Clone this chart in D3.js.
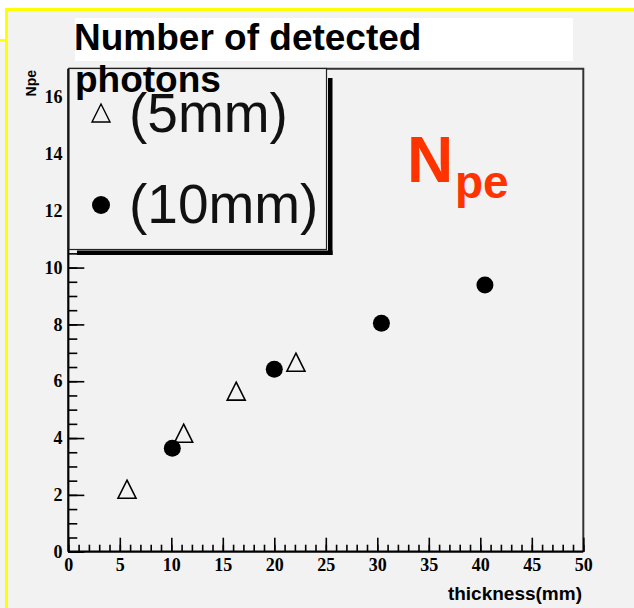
<!DOCTYPE html>
<html>
<head>
<meta charset="utf-8">
<script src="https://cdn.jsdelivr.net/npm/d3@7"></script>
<style>
  body { margin: 0; background: #fff; }
  svg { display: block; }
</style>
</head>
<body>
<svg id="chart" width="634" height="608"></svg>
<script>
"use strict";

// Measured thickness (mm) and number of photoelectrons
const thick5 = [5.7, 11.2, 16.3, 22.1];
const npe5 = [2.2, 4.17, 5.65, 6.67];
const thick10 = [10.1, 20.0, 30.4, 40.45];
const npe10 = [3.64, 6.42, 8.04, 9.39];

const xTicks = [0, 5, 10, 15, 20, 25, 30, 35, 40, 45, 50];
const yTicks = [0, 2, 4, 6, 8, 10, 12, 14, 16];
const legendLabels = ["(5mm)", "(10mm)"];

const BG = "#f2f2f2";
const YELLOW = "#ffff00";
const TICK_FONT = "'Liberation Serif', 'Times New Roman', serif";
const SANS = "'Liberation Sans', Arial, sans-serif";

const svg = d3.select("#chart");

const x = d3.scaleLinear().domain([0, 50]).range([68.3, 583.3]);
const y = d3.scaleLinear().domain([0, 17]).range([551.7, 68.7]);

// Page background and yellow slide frame
svg.append("rect").attr("x", 5).attr("y", 9).attr("width", 629).attr("height", 599).attr("fill", BG);
svg.append("rect").attr("x", 0).attr("y", 40).attr("width", 6).attr("height", 568).attr("fill", BG);
svg.append("line").attr("x1", 5).attr("x2", 634).attr("y1", 9.5).attr("y2", 9.5)
    .attr("stroke", YELLOW).attr("stroke-width", 3);
svg.append("line").attr("x1", 6.5).attr("x2", 6.5).attr("y1", 8).attr("y2", 608)
    .attr("stroke", YELLOW).attr("stroke-width", 3);
svg.append("line").attr("x1", 0).attr("x2", 7).attr("y1", 40).attr("y2", 40)
    .attr("stroke", YELLOW).attr("stroke-width", 2);

// Frame (top and right)
svg.append("path")
    .attr("d", "M" + x(0) + "," + y(17) + "H" + x(50) + "V" + y(0))
    .attr("fill", "none").attr("stroke", "#333").attr("stroke-width", 2);

// X axis
const xAxis = svg.append("g").attr("transform", "translate(0," + y(0) + ")");
xAxis.append("g")
    .call(d3.axisBottom(x).tickValues(d3.range(0, 51, 1)).tickSize(-7).tickFormat(""))
    .call(g => g.select(".domain").remove());
xAxis.append("g")
    .call(d3.axisBottom(x).tickValues(xTicks).tickSize(-14).tickPadding(7).tickFormat(d3.format("d")))
    .call(g => g.select(".domain").remove());
xAxis.selectAll("line").attr("stroke", "#000").attr("stroke-width", 1.6);
xAxis.selectAll("text")
    .attr("font-family", TICK_FONT).attr("font-weight", "bold").attr("font-size", 18)
    .attr("fill", "#000");
xAxis.append("line").attr("x1", x(0)).attr("x2", x(50)).attr("stroke", "#000").attr("stroke-width", 2.2);

// Y axis
const yAxis = svg.append("g").attr("transform", "translate(" + x(0) + ",0)");
yAxis.append("g")
    .call(d3.axisLeft(y).tickValues(d3.range(0, 17.01, 0.5)).tickSize(-9).tickFormat(""))
    .call(g => g.select(".domain").remove());
yAxis.append("g")
    .call(d3.axisLeft(y).tickValues(yTicks).tickSize(-16).tickPadding(4).tickFormat(d3.format("d")))
    .call(g => g.select(".domain").remove());
yAxis.selectAll("line").attr("stroke", "#000").attr("stroke-width", 1.6);
yAxis.selectAll("text")
    .attr("font-family", TICK_FONT).attr("font-weight", "bold").attr("font-size", 18)
    .attr("fill", "#000").attr("dx", "-0.1em");
yAxis.append("line").attr("y1", y(0)).attr("y2", y(17)).attr("stroke", "#000").attr("stroke-width", 2.2);

// Axis titles
svg.append("text")
    .attr("x", 582).attr("y", 600)
    .attr("text-anchor", "end")
    .attr("font-family", SANS).attr("font-weight", "bold").attr("font-size", 19)
    .text("thickness(mm)");
svg.append("text")
    .attr("transform", "translate(35.5,70) rotate(-90)")
    .attr("text-anchor", "end")
    .attr("font-family", SANS).attr("font-weight", "bold").attr("font-size", 14)
    .text("Npe");

// Open triangle path centred on (cx, cy)
function trianglePath(cx, cy, w, h) {
    return "M" + cx + "," + (cy - h / 2) +
        "L" + (cx + w / 2) + "," + (cy + h / 2) +
        "L" + (cx - w / 2) + "," + (cy + h / 2) + "Z";
}

// Data points
svg.append("g").selectAll("path")
    .data(thick5.map((t, i) => [t, npe5[i]]))
    .join("path")
    .attr("d", d => trianglePath(x(d[0]), y(d[1]), 18, 18))
    .attr("fill", "none").attr("stroke", "#000").attr("stroke-width", 1.6);
svg.append("g").selectAll("circle")
    .data(thick10.map((t, i) => [t, npe10[i]]))
    .join("circle")
    .attr("cx", d => x(d[0])).attr("cy", d => y(d[1]))
    .attr("r", 8.5).attr("fill", "#000");

// Legend with shadow
svg.append("rect").attr("x", 328).attr("y", 78).attr("width", 4.5).attr("height", 177).attr("fill", "#000");
svg.append("rect").attr("x", 77).attr("y", 250.5).attr("width", 255.5).attr("height", 4.5).attr("fill", "#000");
svg.append("rect")
    .attr("x", 69).attr("y", 68.5).attr("width", 257.5).attr("height", 181)
    .attr("fill", BG).attr("stroke", "#222").attr("stroke-width", 1.2);
svg.append("path")
    .attr("d", trianglePath(101, 113, 18, 18))
    .attr("fill", "none").attr("stroke", "#000").attr("stroke-width", 1.4);
svg.append("circle").attr("cx", 101).attr("cy", 205).attr("r", 9).attr("fill", "#000");
svg.selectAll(".legtext")
    .data(legendLabels)
    .join("text")
    .attr("class", "legtext")
    .attr("x", 129)
    .attr("y", (d, i) => i === 0 ? 131.7 : 223.3)
    .attr("font-family", SANS).attr("font-size", 55)
    .attr("fill", "#111")
    .text(d => d);

// Title box
svg.append("rect").attr("x", 75).attr("y", 18).attr("width", 498).attr("height", 43).attr("fill", "#fff");
svg.append("text")
    .attr("x", 74).attr("y", 49.5)
    .attr("font-family", SANS).attr("font-weight", "bold").attr("font-size", 37)
    .text("Number of detected");
svg.append("text")
    .attr("x", 75).attr("y", 91.7)
    .attr("font-family", SANS).attr("font-weight", "bold").attr("font-size", 37)
    .text("photons");

// Red N_pe annotation
const npeLabel = svg.append("text")
    .attr("x", 407).attr("y", 181.7)
    .attr("font-family", SANS).attr("font-weight", "bold")
    .attr("fill", "#ff3300");
npeLabel.append("tspan").attr("font-size", 64).text("N");
npeLabel.append("tspan").attr("x", 455).attr("y", 197.7).attr("font-size", 46).text("pe");
</script>
</body>
</html>
